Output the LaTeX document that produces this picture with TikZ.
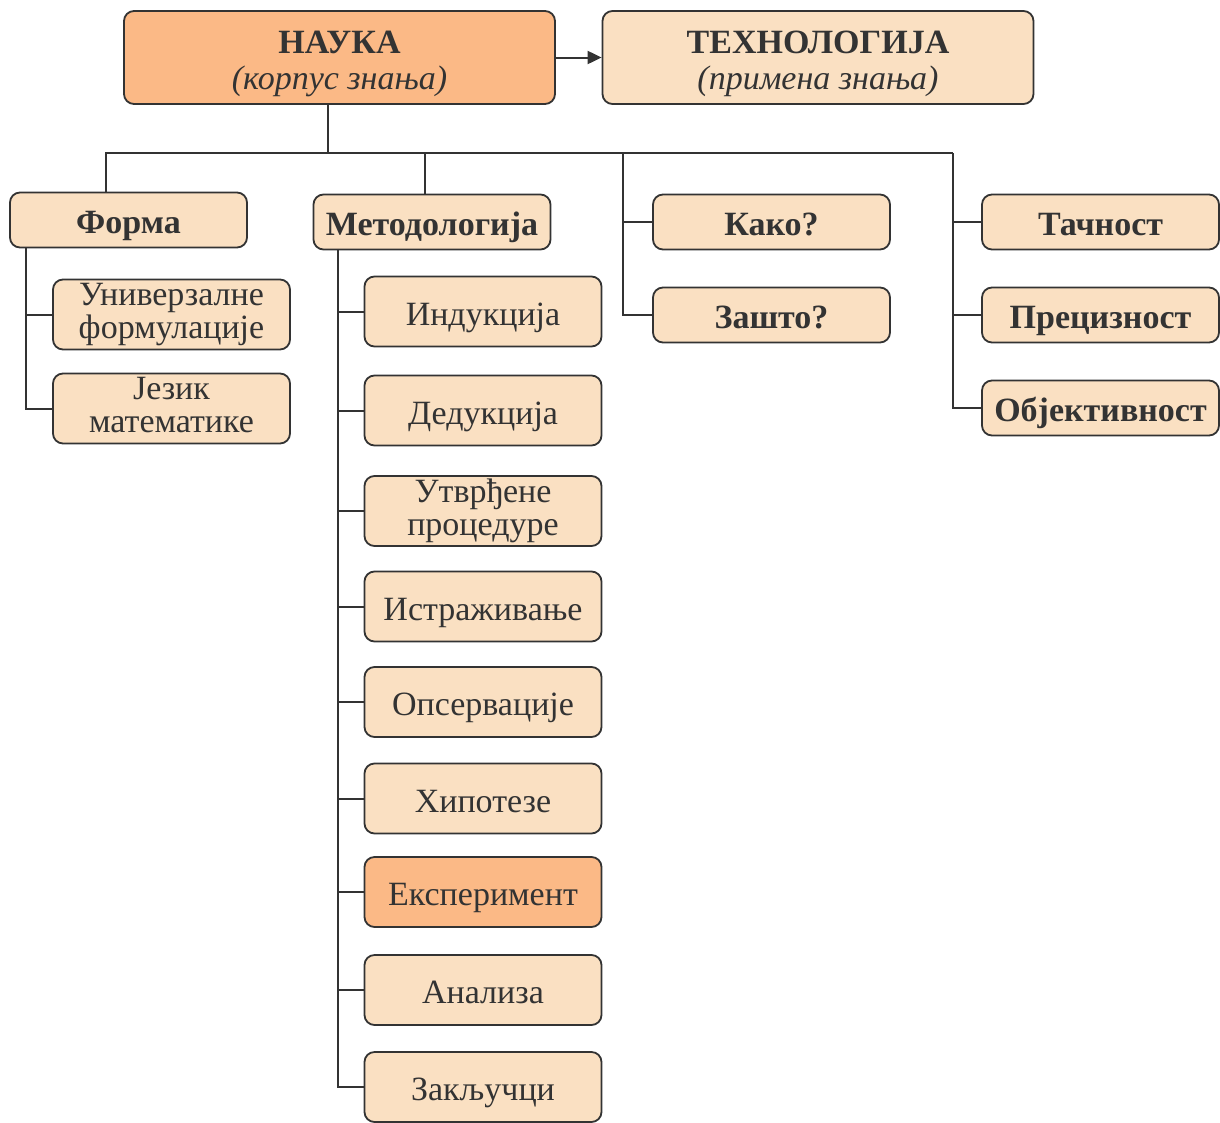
\documentclass[tikz,border=0pt]{standalone}
\usepackage{fontspec}
\setmainfont{Liberation Serif}
\usetikzlibrary{arrows.meta}
\definecolor{light}{HTML}{FAE0C2}
\definecolor{dark}{HTML}{FBB986}
\definecolor{ink}{HTML}{333333}
\newcommand\mytwo[2]{\rule{0pt}{26pt}#1\\#2\rule[-11pt]{0pt}{11pt}}
\newcommand\mytop[2]{\rule{0pt}{38pt}#1\\#2\rule[-11pt]{0pt}{11pt}}
\tikzset{
  box/.style={draw=ink, line width=1.8pt, rounded corners=10pt, fill=light, text=ink,
    minimum width=237pt, inner sep=0pt, align=center,
    font=\fontsize{34}{33}\selectfont},
  sbox/.style={box, minimum height=55pt, text height=34pt, text depth=8pt},
  tbox/.style={box, minimum height=70pt, text height=36pt, text depth=9pt},
  ttwo/.style={box, minimum height=70pt},
  bigbox/.style={box, minimum width=431pt, minimum height=93pt, font=\fontsize{34}{36}\selectfont},
  conn/.style={draw=ink, line width=2pt}
}
\begin{document}
\begin{tikzpicture}[x=1pt,y=-1pt]
\useasboundingbox[fill=white] (0,0) rectangle (1220,1122);
\node[bigbox, fill=dark] (nauka) at (339.5,57.5) {\mytop{\textbf{НАУКА}}{\textit{(корпус знања)}}};
\node[bigbox] (tech) at (818,57.5) {\mytop{\textbf{ТЕХНОЛОГИЈА}}{\textit{(примена знања)}}};
\node[sbox] (forma) at (128.5,220) {\textbf{Форма}};
\node[sbox] (metod) at (432,222) {\textbf{Методологија}};
\node[sbox] (kako) at (771.5,222) {\textbf{Како?}};
\node[sbox] (zasto) at (771.5,315) {\textbf{Зашто?}};
\node[sbox] (tacn) at (1100.5,222) {\textbf{Тачност}};
\node[sbox] (prec) at (1100.5,315) {\textbf{Прецизност}};
\node[sbox] (obj) at (1100.5,408) {\textbf{Објективност}};
\node[ttwo] (univ) at (171.5,314.5) {\mytwo{Универзалне}{формулације}};
\node[ttwo] (jezik) at (171.5,408.5) {\mytwo{Језик}{математике}};
\node[tbox] (ind) at (483,311.5) {Индукција};
\node[tbox] (ded) at (483,410.5) {Дедукција};
\node[ttwo] (utv) at (483,511) {\mytwo{Утврђене}{процедуре}};
\node[tbox] (istr) at (483,606.5) {Истраживање};
\node[tbox] (ops) at (483,702) {Опсервације};
\node[tbox] (hip) at (483,798.5) {Хипотезе};
\node[tbox, fill=dark] (eksp) at (483,892) {Експеримент};
\node[tbox] (anal) at (483,990) {Анализа};
\node[tbox] (zak) at (483,1087) {Закључци};
\coordinate (busL) at (106,153);
\coordinate (busK) at (623,153);
\coordinate (busR) at (953,153);
\draw[conn, -{Triangle[length=14pt,width=13pt]}] (nauka.east) -- (tech.west);
\draw[conn] ([xshift=-11.5pt]nauka.south) -- ([xshift=-11.5pt]nauka.south |- busL);
\draw[conn] ([xshift=-22.5pt]forma.north) |- (busR);
\draw[conn] ([xshift=-7pt]metod.north) -- ([xshift=-7pt]metod.north |- busL);
\draw[conn] (busK) |- (kako.west);
\draw[conn] (busK) |- (zasto.west);
\draw[conn] (busR) |- (tacn.west);
\draw[conn] (busR) |- (prec.west);
\draw[conn] (busR) |- (obj.west);
\draw[conn] ([xshift=17pt]forma.south west) |- (univ.west);
\draw[conn] ([xshift=17pt]forma.south west) |- (jezik.west);
\foreach \n in {ind,ded,utv,istr,ops,hip,eksp,anal,zak}
  \draw[conn] ([xshift=25pt]metod.south west) |- (\n.west);
\end{tikzpicture}
\end{document}
